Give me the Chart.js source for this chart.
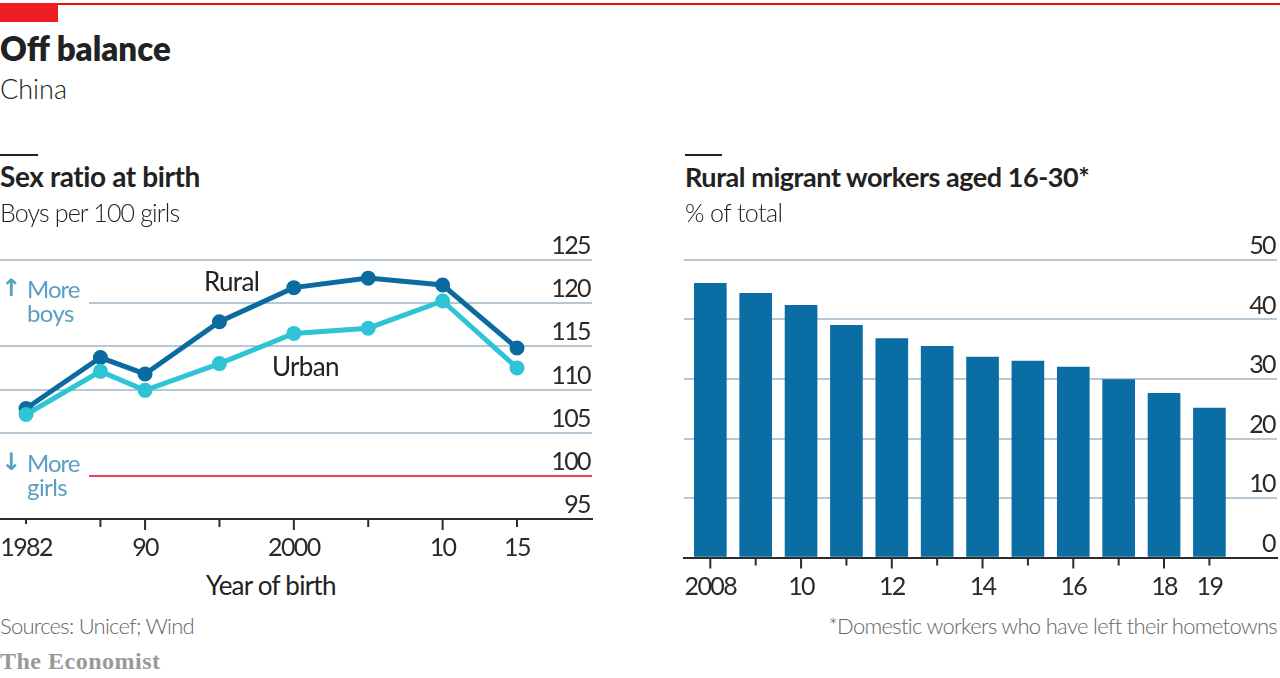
<!DOCTYPE html>
<html><head><meta charset="utf-8">
<script src="https://cdn.jsdelivr.net/npm/chart.js@4"></script>
<style>
html,body{margin:0;padding:0;background:#fff;width:1280px;height:678px;overflow:hidden}
body{font-family:Lato,sans-serif;position:relative}
canvas{position:absolute}
.t{position:absolute;white-space:nowrap;line-height:1}
.box{position:absolute;background:#fff}
.bar{position:absolute}
</style></head><body>
<div class="bar" style="left:0;top:3px;width:1280px;height:2px;background:#e3120b"></div>
<div class="bar" style="left:0;top:3px;width:58px;height:19px;background:#ee1c25"></div>
<div class="bar" style="left:0;top:154px;width:38px;height:2px;background:#222"></div>
<div class="bar" style="left:685px;top:154px;width:37px;height:2px;background:#222"></div>
<canvas id="left" style="left:0;top:220px"></canvas>
<canvas id="right" style="left:680px;top:220px"></canvas>
<div class="box" style="left:0;top:278px;width:89px;height:50px"></div>
<div class="box" style="left:0;top:452px;width:89px;height:50px"></div>
<div id="texts"></div>
<script>
const leftYears=[1982,1987,1990,1995,2000,2005,2010,2015];
const ruralRatio=[107.8,113.7,111.8,117.85,121.8,122.9,122.1,114.8];
const urbanRatio=[107.1,112.1,109.9,113.0,116.5,117.1,120.25,112.5];
const leftTickLabels=['1982','','90','','2000','','10','15'];
const leftLongTicks=[1990,2000,2010];
const leftShortestTicks=[1982];
const leftYTicks=[95,100,105,110,115,120,125];
const rightYears=[2008,2009,2010,2011,2012,2013,2014,2015,2016,2017,2018,2019];
const migrantShare=[46.1,44.4,42.4,39.0,36.8,35.5,33.7,33.0,32.0,29.9,27.6,25.1];
const rightTickLabels=['2008','','10','','12','','14','','16','','18','19'];
const rightLongTicks=[2008,2010,2012,2014,2016,2018];
const rightYTicks=[0,10,20,30,40,50];

const texts=[
 ['Off balance',0,48,33,800,'#222',0.0],
 ['China',0,88,27,300,'#222',0.0],
 ['Sex ratio at birth',0,176,28,700,'#222',-0.4],
 ['Boys per 100 girls',0,212,25,300,'#222',-0.85],
 ['Rural migrant workers aged 16-30*',685,176,27,700,'#222',-0.45],
 ['% of total',685,212,25,300,'#222',-0.6],
 ['Rural',204,281,26,400,'#222',-0.7],
 ['Urban',272,366,26,400,'#222',-0.7],
 ['Year of birth',206,585,26,400,'#222',-0.75],
 ['More',27,289,24,400,'#5a9fc0',-1.0],
 ['boys',27,313,24,400,'#5a9fc0',-0.6],
 ['More',27,463,24,400,'#5a9fc0',-1.0],
 ['girls',27,487,24,400,'#5a9fc0',-0.6],
 ['Sources: Unicef; Wind',0,626,22,300,'#666',-0.75]
];
const host=document.getElementById('texts');
function addText(s,x,y,size,w,c,ls,right){
 const d=document.createElement('div');d.className='t';d.textContent=s;
 d.style.cssText+=`top:${y-size/2}px;font-size:${size}px;font-weight:${w};color:${c};letter-spacing:${ls}px;`+(right?`right:${1280-x}px;`:`left:${x}px;`);
 host.appendChild(d);return d;
}
texts.forEach(a=>addText(...a));
addText('*Domestic workers who have left their hometowns',1277,626,22,300,'#666',-0.7,true);
addText('↑',1,288,24,700,'#5a9fc0',0).style.fontFamily='"DejaVu Sans",sans-serif';
addText('↓',1,462,24,700,'#5a9fc0',0).style.fontFamily='"DejaVu Sans",sans-serif';
const eco=addText('The Economist',0,661,24,700,'#999',0.5);eco.style.fontFamily='"Liberation Serif",serif';

const GRID='#b6c7d5',AXIS='#2b2b2b',TXT='#2a2a2a',RED='#e4454e',RURAL='#0b6ba1',URBAN='#2fc3d6',BAR='#0a6ea4';
const tickFont={family:'Lato',size:25,weight:'400'};
function tightTicks(cfg){return {id:'ticks'+cfg.id,
 beforeDraw(c){c.ctx.letterSpacing='-1.6px';},
 afterDraw(c){const s=c.scales.x,ctx=c.ctx;ctx.save();ctx.strokeStyle=AXIS;ctx.lineWidth=2;
  cfg.years.forEach(v=>{const px=s.getPixelForValue(v);ctx.beginPath();ctx.moveTo(px,s.top);
   ctx.lineTo(px,s.top+cfg.len(v));ctx.stroke();});ctx.restore();}};}
function yScale(min,max,vals,gridColor){return {min,max,position:'right',
 afterBuildTicks:a=>{a.ticks=vals.map(value=>({value}));},
 afterFit:s=>{s.width=0;},
 ticks:{mirror:true,padding:-2,labelOffset:-14,font:tickFont,color:TXT,autoSkip:false},
 grid:{color:gridColor,lineWidth:2,drawTicks:false},border:{display:false}};}
function xScale(min,max,vals,labels,pad){return {type:'linear',min,max,offset:false,
 afterBuildTicks:a=>{a.ticks=vals.map(value=>({value}));},
 afterFit:s=>{s.height=pad.h;s.paddingLeft=0;s.paddingRight=0;},
 ticks:{autoSkip:false,maxRotation:0,minRotation:0,padding:pad.p,font:tickFont,color:TXT,
  callback:v=>labels[vals.indexOf(v)]},
 grid:{display:false},border:{display:true,color:AXIS,width:2}};}

function size(id,w,h){const c=document.getElementById(id);c.style.width=w+'px';c.style.height=h+'px';c.width=w;c.height=h;return c;}
new Chart(size('left',600,349),{type:'line',
 data:{labels:leftYears,datasets:[
  {label:'Urban',data:urbanRatio,borderColor:URBAN,backgroundColor:URBAN,borderWidth:5,pointRadius:5,pointHoverRadius:5,tension:0},
  {label:'Rural',data:ruralRatio,borderColor:RURAL,backgroundColor:RURAL,borderWidth:5,pointRadius:5,pointHoverRadius:5,tension:0}]},
 options:{responsive:false,animation:false,devicePixelRatio:1,
  layout:{autoPadding:false,padding:{left:0,right:8,top:40,bottom:0}},
  plugins:{legend:{display:false},tooltip:{enabled:false}},
  scales:{x:xScale(1980.25,2020.04,leftYears,leftTickLabels,{h:50,p:6}),
   y:yScale(95,125,leftYTicks,c=>c.tick.value===100?RED:c.tick.value===95?'rgba(0,0,0,0)':GRID)}},
 plugins:[tightTicks({id:'L',years:leftYears,len:v=>leftLongTicks.includes(v)?11:leftShortestTicks.includes(v)?5:8})]});
new Chart(size('right',600,388),{type:'bar',
 data:{labels:rightYears,datasets:[{label:'Rural migrant workers aged 16-30',data:migrantShare,backgroundColor:BAR,barThickness:32}]},
 options:{responsive:false,animation:false,devicePixelRatio:1,
  layout:{autoPadding:false,padding:{left:4,right:3,top:40,bottom:0}},
  plugins:{legend:{display:false},tooltip:{enabled:false}},
  scales:{x:xScale(2007.42,2020.49,rightYears,rightTickLabels,{h:50.5,p:6}),
   y:yScale(0,50,rightYTicks,c=>c.tick.value===0?'rgba(0,0,0,0)':GRID)}},
 plugins:[tightTicks({id:'R',years:rightYears,len:v=>rightLongTicks.includes(v)?11:8})]});
</script>
</body></html>
